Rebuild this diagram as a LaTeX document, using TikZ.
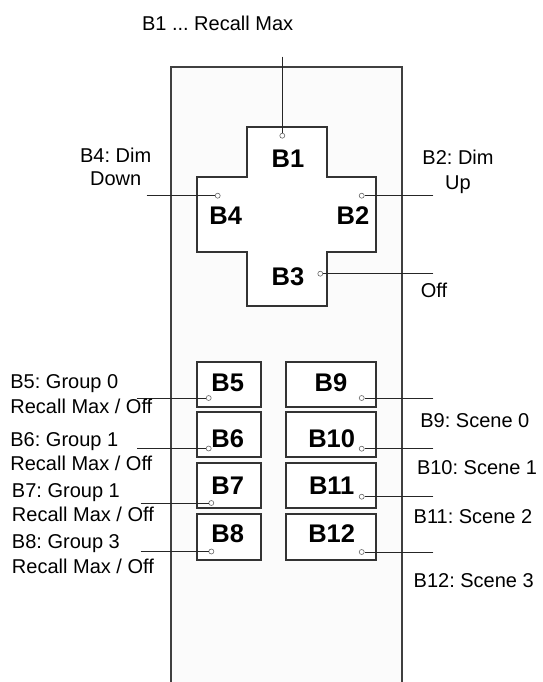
\documentclass[tikz,border=0pt]{standalone}
\usepackage{fontspec}
\setmainfont{Liberation Sans}
\frenchspacing
\begin{document}
\begin{tikzpicture}[x=1pt,y=-1pt,
  lbl/.style={inner sep=0pt, anchor=base west, font=\fontsize{20}{24}\selectfont},
  lblc/.style={inner sep=0pt, anchor=base, font=\fontsize{20}{24}\selectfont},
  bl/.style={inner sep=0pt, anchor=base, font=\fontsize{25.5}{30}\selectfont\bfseries},
  pin/.style={circle, draw=black!60, fill=white, line width=0.6pt, inner sep=0pt, minimum size=5pt},
  conn/.style={line width=1pt, draw=black!85},
  key/.style={draw=black!80, line width=1.8pt, fill=white, inner sep=0pt, rectangle},
]
\useasboundingbox (0,0) rectangle (542,682);
\fill[white] (0,0) rectangle (542,682);
% panel
\fill[black!1.5] (171,67) rectangle (402,690);
\draw[line width=1.8pt, draw=black!75] (171,690) -- (171,67) -- (402,67) -- (402,690);
% cross
\draw[line width=1.8pt, draw=black!80, fill=white]
  (246.7,126.7) -- (326.7,126.7) -- (326.7,176.7) -- (376,176.7) -- (376,252.3)
  -- (326.7,252.3) -- (326.7,305.7) -- (246.7,305.7) -- (246.7,252.3)
  -- (196.7,252.3) -- (196.7,176.7) -- (246.7,176.7) -- cycle;
% keys
\node[key, minimum width=64.3pt, minimum height=44.4pt] (k5) at (228.8,384.5) {};
\node[key, minimum width=64.3pt, minimum height=45pt] (k6) at (228.8,434.8) {};
\node[key, minimum width=64.3pt, minimum height=45.6pt] (k7) at (228.8,485.5) {};
\node[key, minimum width=64.3pt, minimum height=45.7pt] (k8) at (228.8,537.2) {};
\node[key, minimum width=90pt, minimum height=44.4pt] (k9) at (331,384.5) {};
\node[key, minimum width=90pt, minimum height=45pt] (k10) at (331,434.8) {};
\node[key, minimum width=90pt, minimum height=45.6pt] (k11) at (331,485.5) {};
\node[key, minimum width=90pt, minimum height=45.7pt] (k12) at (331,537.2) {};
% key labels
\node[bl] (t1) at (288,167.1) {B1};
\node[bl] (t4) at (225.7,224.1) {B4};
\node[bl] (t2) at (353,224.1) {B2};
\node[bl] (t3) at (288,285.8) {B3};
\node[bl] (t5) at (227.7,391.1) {B5};
\node[bl] (t6) at (227.7,447.1) {B6};
\node[bl] (t7) at (227.7,494.1) {B7};
\node[bl] (t8) at (227.7,542.1) {B8};
\node[bl] (t9) at (331,391.1) {B9};
\node[bl] (t10) at (331.7,447.1) {B10};
\node[bl] (t11) at (331.7,494.1) {B11};
\node[bl] (t12) at (331.7,542.1) {B12};
% pins
\node[pin] (p1) at (282.3,135.7) {};
\node[pin] (p4) at (217.7,195.7) {};
\node[pin] (p2) at (361.7,195.7) {};
\node[pin] (p3) at (320.3,273.7) {};
\node[pin] (p5) at (208.7,398) {};
\node[pin] (p6) at (208.7,448.5) {};
\node[pin] (p7) at (211.3,503) {};
\node[pin] (p8) at (211.3,551.5) {};
\node[pin] (p9) at (361.7,398) {};
\node[pin] (p10) at (361.7,448.7) {};
\node[pin] (p11) at (361.7,496.7) {};
\node[pin] (p12) at (361.7,552) {};
% free ends
\coordinate (e1) at (282.3,56.7);
\coordinate (e4) at (146.7,195.7);
\coordinate (e2) at (433.3,195.7);
\coordinate (e3) at (433.3,273.7);
\coordinate (e5) at (136.7,398);
\coordinate (e6) at (137.3,448.5);
\coordinate (e7) at (140.7,503);
\coordinate (e8) at (140.7,551.5);
\coordinate (e9) at (433.3,398);
\coordinate (e10) at (433.3,448.7);
\coordinate (e11) at (433.3,496.7);
\coordinate (e12) at (433.3,552);
\foreach \i in {1,...,12} { \draw[conn] (e\i) -- (p\i); }
% labels
\node[lbl] (l1) at (141.8,30.5) {B1 ... Recall Max};
\node[lblc] (l4a) at (115.7,162.2) {B4: Dim};
\node[lblc] (l4b) at (115.7,185.5) {Down};
\node[lblc] (l2a) at (458,164.5) {B2: Dim};
\node[lblc] (l2b) at (458,189.5) {Up};
\node[lbl] (l3) at (420.7,297.2) {Off};
\node[lbl] (l5a) at (10.2,388.9) {B5: Group 0};
\node[lbl] (l5b) at (10.2,413.9) {Recall Max / Off};
\node[lbl] (l6a) at (10.2,446.5) {B6: Group 1};
\node[lbl] (l6b) at (10.2,470.5) {Recall Max / Off};
\node[lbl] (l7a) at (11.8,497.2) {B7: Group 1};
\node[lbl] (l7b) at (11.8,521.2) {Recall Max / Off};
\node[lbl] (l8a) at (11.8,548.9) {B8: Group 3};
\node[lbl] (l8b) at (11.8,573.9) {Recall Max / Off};
\node[lbl] (l9) at (420.2,427.2) {B9: Scene 0};
\node[lbl] (l10) at (416.8,474.5) {B10: Scene 1};
\node[lbl] (l11) at (413.5,523.9) {B11: Scene 2};
\node[lbl] (l12) at (413.5,587.2) {B12: Scene 3};
\end{tikzpicture}
\end{document}
